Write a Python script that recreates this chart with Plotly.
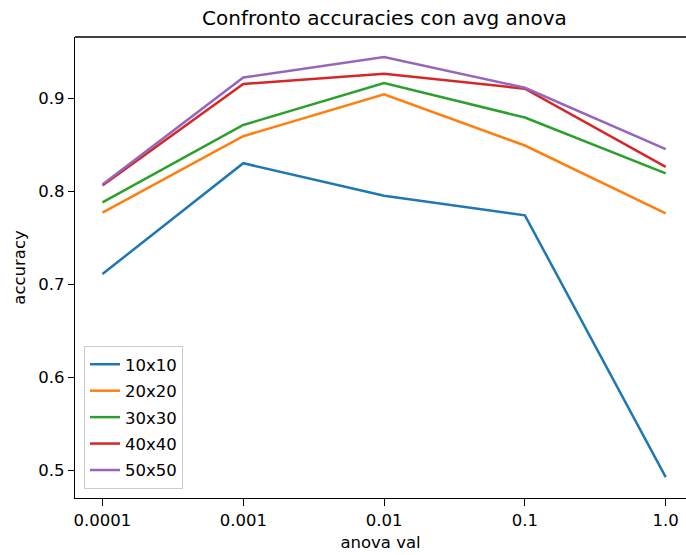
import plotly.graph_objects as go

categories = ["0.0001", "0.001", "0.01", "0.1", "1.0"]
series_names = ["10x10", "20x20", "30x30", "40x40", "50x50"]
acc_10 = [0.711, 0.830, 0.795, 0.774, 0.493]
acc_20 = [0.777, 0.859, 0.904, 0.849, 0.776]
acc_30 = [0.788, 0.871, 0.916, 0.879, 0.819]
acc_40 = [0.806, 0.915, 0.926, 0.910, 0.826]
acc_50 = [0.807, 0.922, 0.944, 0.911, 0.845]
colors = ["#1f77b4", "#ff7f0e", "#2ca02c", "#d62728", "#9467bd"]

fig = go.Figure()
for name, vals, col in zip(series_names, [acc_10, acc_20, acc_30, acc_40, acc_50], colors):
    fig.add_trace(go.Scatter(x=categories, y=vals, mode="lines", name=name, legendgroup=name,
                             line=dict(color=col, width=2.5)))

font = dict(family="DejaVu Sans", size=16.5, color="black")
W, H = 686, 555
L, R, T, B = 75, 0, 37, 57
fig.update_layout(
    width=W, height=H,
    margin=dict(l=L, r=R, t=T, b=B, pad=0),
    paper_bgcolor="white", plot_bgcolor="white",
    font=font,
    title=dict(text="Confronto accuracies con avg anova", font=dict(family="DejaVu Sans", size=20, color="black"),
               x=(384.5 - L) / (W - L - R), xref="paper", xanchor="center",
               y=1 - 18 / H, yref="container", yanchor="middle"),
    xaxis=dict(type="category", range=[-0.195, 4.144], showgrid=False, zeroline=False,
               showline=True, linecolor="black", linewidth=1.3,
               ticks="outside", ticklen=7, tickwidth=1.3, tickcolor="black",
               title=dict(text="anova val", font=font, standoff=7)),
    yaxis=dict(range=[0.4705, 0.9655], showgrid=False, zeroline=False,
               showline=True, linecolor="black", linewidth=1.3,
               ticks="outside", ticklen=6, tickwidth=1.3, tickcolor="black",
               tickvals=[0.5, 0.6, 0.7, 0.8, 0.9], ticktext=["0.5", "0.6", "0.7", "0.8", "0.9"],
               title=dict(text="accuracy", font=font, standoff=8)),
    legend=dict(x=(84 - L) / (W - L - R), y=(H - B - 489) / (H - T - B), xanchor="left", yanchor="bottom",
                bgcolor="rgba(255,255,255,0.8)", bordercolor="#cccccc", borderwidth=1,
                font=font, tracegroupgap=2),
    showlegend=True,
)
fig.add_shape(type="line", xref="paper", yref="paper", x0=0, x1=1, y0=1, y1=1,
              line=dict(color="black", width=1.3))
fig.write_html("out.html")
